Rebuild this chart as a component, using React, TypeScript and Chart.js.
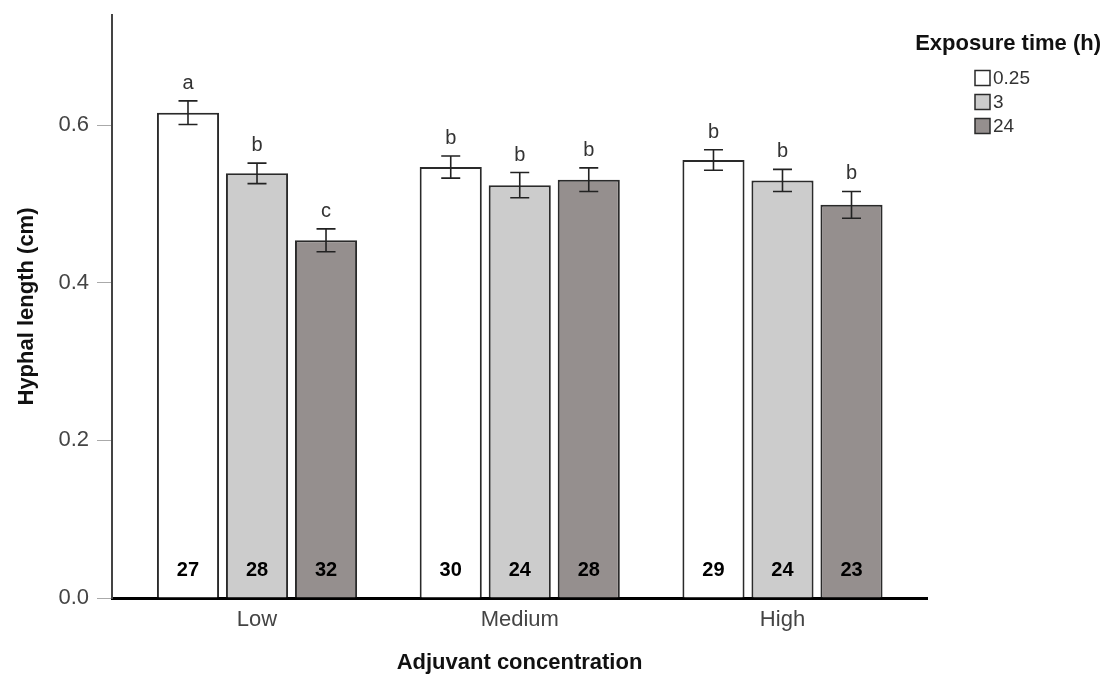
import React, { useEffect, useRef } from "react";
import { Chart, registerables } from "chart.js";

Chart.register(...registerables);

// Adjuvant concentration groups
const categories = ["Low", "Medium", "High"];

// Exposure time levels (h)
const exposureLabels = ["0.25", "3", "24"];

// Mean hyphal length (cm) per exposure time, one entry per concentration
const mean025 = [0.616, 0.547, 0.556];
const mean3 = [0.539, 0.524, 0.53];
const mean24 = [0.454, 0.531, 0.499];

// Error bar half-widths (cm)
const err025 = [0.015, 0.014, 0.013];
const err3 = [0.013, 0.016, 0.014];
const err24 = [0.0145, 0.015, 0.017];

// Sample sizes printed inside the bars
const n025 = [27, 30, 29];
const n3 = [28, 24, 24];
const n24 = [32, 28, 23];

// Significance letters above the error bars
const letters025 = ["a", "b", "b"];
const letters3 = ["b", "b", "b"];
const letters24 = ["c", "b", "b"];

// Y axis ticks
const yTicks = [0, 0.2, 0.4, 0.6];

const FONT = "'Liberation Sans', Arial, sans-serif";
const fills = ["#ffffff", "#cccccc", "#958f8e"];
const EDGE = "#2a2a2a";

const means = [mean025, mean3, mean24];
const errs = [err025, err3, err24];
const counts = [n025, n3, n24];
const letters = [letters025, letters3, letters24];

const annotations = {
  id: "barAnnotations",
  afterDatasetsDraw(chart: any) {
    const ctx = chart.ctx;
    const y = chart.scales.y;
    ctx.save();
    means.forEach((_, d) => {
      const meta = chart.getDatasetMeta(d);
      meta.data.forEach((bar: any, i: number) => {
        const x = bar.x;
        const top = y.getPixelForValue(means[d][i] + errs[d][i]);
        const bot = y.getPixelForValue(means[d][i] - errs[d][i]);
        // error bar with caps
        ctx.strokeStyle = "#222222";
        ctx.lineWidth = 1.6;
        ctx.beginPath();
        ctx.moveTo(x, top);
        ctx.lineTo(x, bot);
        ctx.moveTo(x - 9.5, top);
        ctx.lineTo(x + 9.5, top);
        ctx.moveTo(x - 9.5, bot);
        ctx.lineTo(x + 9.5, bot);
        ctx.stroke();
        // significance letter
        ctx.fillStyle = "#333333";
        ctx.font = `20px ${FONT}`;
        ctx.textAlign = "center";
        ctx.textBaseline = "alphabetic";
        ctx.fillText(letters[d][i], x, top - 12);
        // sample size
        ctx.fillStyle = "#000000";
        ctx.font = `bold 20px ${FONT}`;
        ctx.textBaseline = "middle";
        ctx.fillText(String(counts[d][i]), x, 570);
      });
    });
    ctx.restore();
  },
};

const legendBox = {
  id: "legendBox",
  afterDraw(chart: any) {
    const ctx = chart.ctx;
    ctx.save();
    ctx.fillStyle = "#111111";
    ctx.font = `bold 22px ${FONT}`;
    ctx.textAlign = "right";
    ctx.textBaseline = "middle";
    ctx.fillText("Exposure time (h)", 1101, 44);
    const rows = [78, 102, 126];
    exposureLabels.forEach((label, k) => {
      const cy = rows[k];
      ctx.fillStyle = fills[k];
      ctx.fillRect(975, cy - 7.5, 15, 15);
      ctx.strokeStyle = EDGE;
      ctx.lineWidth = 1.5;
      ctx.strokeRect(975, cy - 7.5, 15, 15);
      ctx.fillStyle = "#333333";
      ctx.font = `19px ${FONT}`;
      ctx.textAlign = "left";
      ctx.fillText(label, 993, cy + 1);
    });
    ctx.restore();
  },
};

export default function App() {
  const ref = useRef<HTMLCanvasElement | null>(null);

  useEffect(() => {
    if (!ref.current) return;
    const chart = new Chart(ref.current, {
      type: "bar",
      data: {
        datasets: means.map((m, d) => ({
          label: exposureLabels[d],
          data: m.map((v, i) => ({ x: i, y: v })),
          backgroundColor: fills[d],
          borderColor: EDGE,
          borderWidth: 2,
          categoryPercentage: 0.788,
          barPercentage: 0.9,
        })),
      },
      options: {
        responsive: false,
        animation: false,
        layout: { padding: { top: 15, right: 178, bottom: 0, left: 0 } },
        plugins: {
          legend: { display: false },
          tooltip: { enabled: false },
        },
        scales: {
          x: {
            type: "linear",
            offset: false,
            min: -0.5519,
            max: 2.55,
            afterBuildTicks: (scale: any) => {
              scale.ticks = categories.map((_, i) => ({ value: i }));
            },
            afterFit: (scale: any) => {
              scale.height = 83;
              scale.paddingLeft = 0;
              scale.paddingRight = 0;
            },
            grid: { display: false, drawTicks: false, offset: false },
            border: { display: true, color: "#000000", width: 3 },
            ticks: {
              autoSkip: false,
              maxRotation: 0,
              padding: 9,
              color: "#444444",
              font: { family: FONT, size: 22 },
              callback: (v: any) => categories[v] ?? "",
            },
            title: {
              display: true,
              text: "Adjuvant concentration",
              color: "#111111",
              font: { family: FONT, size: 22, weight: "bold" },
              padding: { top: 0, bottom: 5 },
            },
          },
          y: {
            min: 0,
            max: 0.74,
            afterBuildTicks: (scale: any) => {
              scale.ticks = yTicks.map((v) => ({ value: v }));
            },
            afterFit: (scale: any) => {
              scale.width = 112;
              scale.paddingTop = 0;
              scale.paddingBottom = 0;
            },
            grid: {
              drawOnChartArea: false,
              drawTicks: true,
              tickLength: 15,
              color: "#aaaaaa",
              lineWidth: 1,
            },
            border: { display: true, color: "#444444", width: 2 },
            ticks: {
              padding: 8,
              color: "#444444",
              font: { family: FONT, size: 22 },
              callback: (v: any) => Number(v).toFixed(1),
            },
            title: {
              display: true,
              text: "Hyphal length (cm)",
              color: "#111111",
              font: { family: FONT, size: 22, weight: "bold" },
              padding: { top: 14, bottom: 0 },
            },
          },
        },
      },
      plugins: [annotations, legendBox],
    });
    return () => chart.destroy();
  }, []);

  return (
    <div style={{ position: "absolute", left: 0, top: 0, width: 1105, height: 681, background: "#ffffff" }}>
      <canvas ref={ref} width={1105} height={681} style={{ width: 1105, height: 681 }} />
    </div>
  );
}
